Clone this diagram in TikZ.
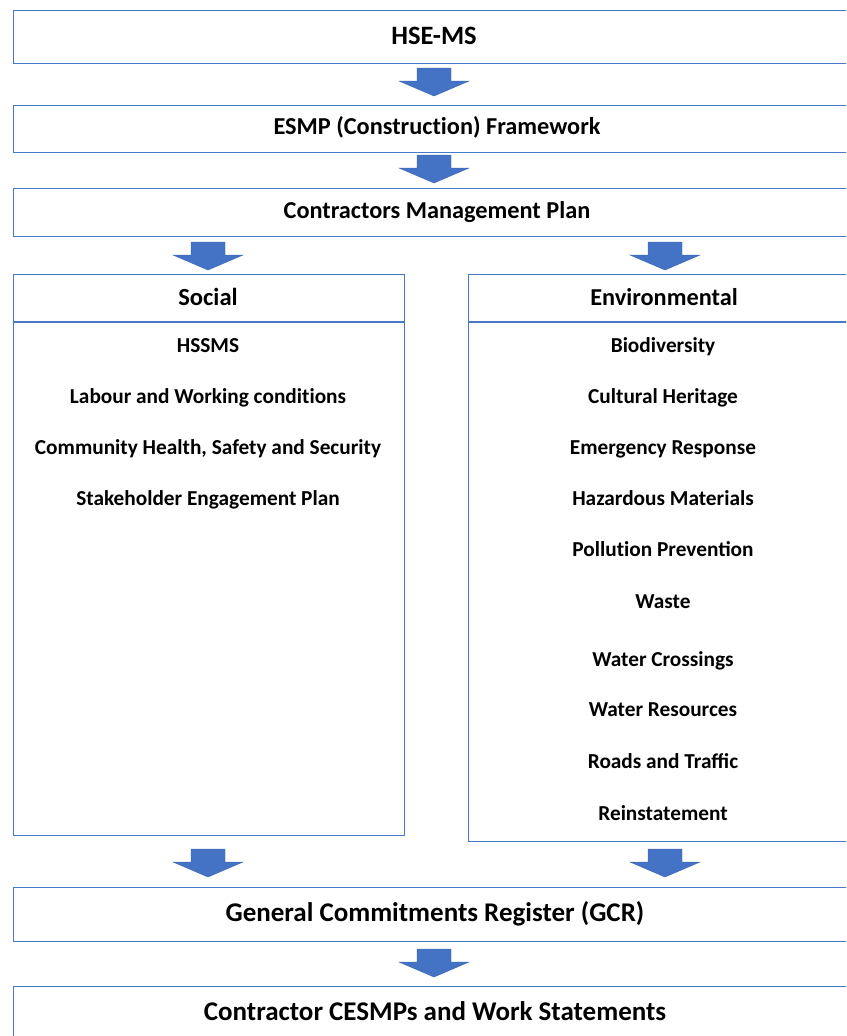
\documentclass[tikz,border=0pt]{standalone}
\usepackage{fontspec}
\setmainfont{Carlito}
\definecolor{bord}{HTML}{4A78C8}
\definecolor{arr}{HTML}{4472C4}
\definecolor{arrdark}{HTML}{3B64AD}
\newcommand{\nti}{t\kern0pt i}
\begin{document}
\begin{tikzpicture}[x=1pt,y=-1pt,
  box/.style={draw=bord,line width=1.3pt,fill=white,rectangle,anchor=north west,inner sep=0pt},
  txt/.style={inner sep=0pt,text height=0.62em,text depth=0pt,yshift=-4pt,font=\bfseries\fontsize{#1}{#1}\selectfont},
  txt/.default=21.3,
  blockarrow/.pic={\filldraw[fill=arr,draw=arrdark,line width=0.4pt,line join=miter]
     (-17,0) -- (17,0) -- (17,13) -- (35,13) -- (0,28) -- (-35,13) -- (-17,13) -- cycle;}
]
\useasboundingbox (0,0) rectangle (846,1036);
\clip (0,0) rectangle (846,1036);
\fill[white] (0,0) rectangle (846,1036);

% top boxes
\node[box,minimum width=844pt,minimum height=53pt] (hse) at (13,10) {};
\node[box,minimum width=844pt,minimum height=47pt] (esmp) at (13,105) {};
\node[box,minimum width=844pt,minimum height=48pt] (cmp) at (13,188) {};
\node[txt=26.5] (hsetxt) at (434,37) {HSE-MS};
\node[txt=24.3] (esmptxt) at (437,127) {ESMP (Construc\nti on) Framework};
\node[txt=24.3] (cmptxt) at (437,211) {Contractors Management Plan};

% columns
\node[box,minimum width=391pt,minimum height=561pt] (soc) at (13,274) {};
\node[box,minimum width=392pt,minimum height=567pt] (env) at (468,274) {};
\draw[draw=bord,line width=1.3pt] (soc.west |- 0,322) -- (soc.east |- 0,322);
\draw[draw=bord,line width=1.3pt] (env.west |- 0,322) -- (env.east |- 0,322);
\node[txt=24.6] (soct) at (208,298) {Social};
\node[txt=24.3] (envt) at (664,298) {Environmental};

\node[txt] (s1) at (208,345) {HSSMS};
\node[txt] (s2) at (208,396) {Labour and Working condi\nti ons};
\node[txt] (s3) at (208,447) {Community Health, Safety and Security};
\node[txt] (s4) at (208,498) {Stakeholder Engagement Plan};

\node[txt] (e1) at (663,345) {Biodiversity};
\node[txt] (e2) at (663,396) {Cultural Heritage};
\node[txt] (e3) at (663,447) {Emergency Response};
\node[txt] (e4) at (663,498) {Hazardous Materials};
\node[txt] (e5) at (663,549) {Pollu\nti on Prevention};
\node[txt] (e6) at (663,601) {Waste};
\node[txt] (e7) at (663,659) {Water Crossings};
\node[txt] (e8) at (663,709) {Water Resources};
\node[txt] (e9) at (663,761) {Roads and Traffic};
\node[txt] (e10) at (663,813) {Reinstatement};

% bottom boxes
\node[box,minimum width=844pt,minimum height=54pt] (gcr) at (13,887) {};
\node[box,minimum width=844pt,minimum height=80pt] (ces) at (13,986) {};
\node[txt=27] (gcrtxt) at (435,914) {General Commitments Register (GCR)};
\node[txt=27] (cestxt) at (435,1013) {Contractor CESMPs and Work Statements};

% block arrows
\pic at (434,68) {blockarrow};
\pic at (434,155) {blockarrow};
\pic at (208,242) {blockarrow};
\pic at (665,242) {blockarrow};
\pic at (208,849) {blockarrow};
\pic at (665,849) {blockarrow};
\pic at (434,949) {blockarrow};
\end{tikzpicture}
\end{document}
